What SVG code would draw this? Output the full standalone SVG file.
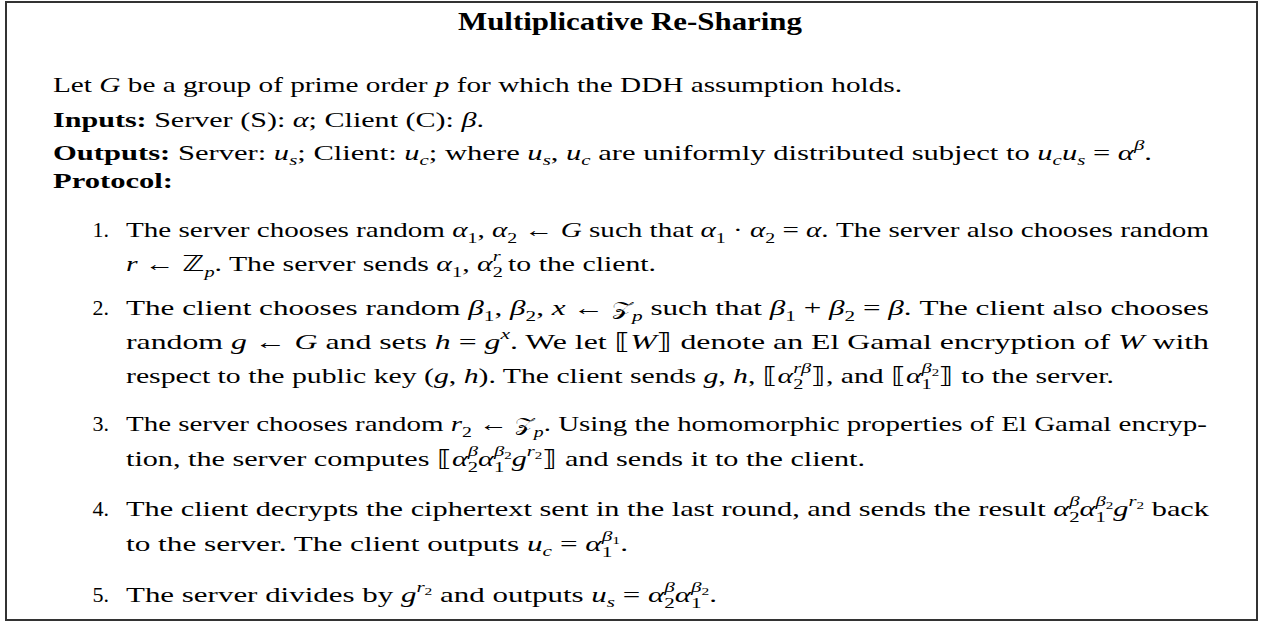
<svg xmlns="http://www.w3.org/2000/svg" width="1264" height="622" viewBox="0 0 1264 622">
<style>
.t{font-family:"Liberation Serif","DejaVu Serif",serif;font-size:22px;fill:#000}
.h{font-size:25px;font-weight:bold}
.b{font-weight:bold}
.i{font-style:italic}
.s{font-size:15px}
.ss{font-size:11px}
.m{font-family:"DejaVu Sans","DejaVu Serif",serif;font-style:normal}
.n{text-anchor:end}
</style>
<rect x="6" y="2" width="1251" height="618" fill="#fff" stroke="#333" stroke-width="2"/>
<g id="title">
<text class="t h" x="458" y="30" textLength="344" lengthAdjust="spacingAndGlyphs">Multiplicative Re-Sharing</text>
</g>
<g id="header">
<text class="t" x="53" y="92" textLength="849" lengthAdjust="spacingAndGlyphs">Let <tspan class="i">G</tspan> be a group of prime order <tspan class="i">p</tspan> for which the DDH assumption holds.</text>
<text class="t" x="53" y="127" textLength="431" lengthAdjust="spacingAndGlyphs"><tspan class="b">Inputs:</tspan> Server (S): <tspan class="i">α</tspan>; Client (C): <tspan class="i">β</tspan>.</text>
<text class="t" x="53" y="160" textLength="1099" lengthAdjust="spacingAndGlyphs"><tspan class="b">Outputs:</tspan> Server: <tspan class="i">u</tspan><tspan class="s i" dy="5">s</tspan><tspan dy="-5">; Client: </tspan><tspan class="i">u</tspan><tspan class="s i" dy="5">c</tspan><tspan dy="-5">; where </tspan><tspan class="i">u</tspan><tspan class="s i" dy="5">s</tspan><tspan dy="-5">, </tspan><tspan class="i">u</tspan><tspan class="s i" dy="5">c</tspan><tspan dy="-5"> are uniformly distributed subject to </tspan><tspan class="i">u</tspan><tspan class="s i" dy="5">c</tspan><tspan class="i" dy="-5">u</tspan><tspan class="s i" dy="5">s</tspan><tspan dy="-5"> = </tspan><tspan class="i">α</tspan><tspan class="s i" dy="-10">β</tspan><tspan dy="10">.</tspan></text>
<text class="t b" x="53" y="188" textLength="120" lengthAdjust="spacingAndGlyphs">Protocol:</text>
</g>
<g id="step1">
<text class="t n" x="109" y="237">1.</text>
<text class="t" x="126" y="237" textLength="1083" lengthAdjust="spacingAndGlyphs">The server chooses random <tspan class="i">α</tspan><tspan class="s" dy="6">1</tspan><tspan dy="-6">, </tspan><tspan class="i">α</tspan><tspan class="s" dy="6">2</tspan><tspan dy="-6"> ← </tspan><tspan class="i">G</tspan> such that <tspan class="i">α</tspan><tspan class="s" dy="6">1</tspan><tspan dy="-6"> · </tspan><tspan class="i">α</tspan><tspan class="s" dy="6">2</tspan><tspan dy="-6"> = </tspan><tspan class="i">α</tspan>. The server also chooses random</text>
<text class="t" x="126" y="271" textLength="530" lengthAdjust="spacingAndGlyphs"><tspan class="i">r</tspan> ← <tspan class="m">ℤ</tspan><tspan class="s i" dy="6">p</tspan><tspan dy="-6">. The server sends </tspan><tspan class="i">α</tspan><tspan class="s" dy="6">1</tspan><tspan dy="-6">, </tspan><tspan class="i">α</tspan><tspan class="s" dy="6">2</tspan><tspan class="s i" dx="-7.5" dy="-16">r</tspan><tspan dy="10"> to the client.</tspan></text>
</g>
<g id="step2">
<text class="t n" x="109" y="315">2.</text>
<text class="t" x="126" y="315" textLength="1083" lengthAdjust="spacingAndGlyphs">The client chooses random <tspan class="i">β</tspan><tspan class="s" dy="6">1</tspan><tspan dy="-6">, </tspan><tspan class="i">β</tspan><tspan class="s" dy="6">2</tspan><tspan dy="-6">, </tspan><tspan class="i">x</tspan> ← <tspan class="m" font-size="19">𝒵</tspan><tspan class="s i" dy="6">p</tspan><tspan dy="-6"> such that </tspan><tspan class="i">β</tspan><tspan class="s" dy="6">1</tspan><tspan dy="-6"> + </tspan><tspan class="i">β</tspan><tspan class="s" dy="6">2</tspan><tspan dy="-6"> = </tspan><tspan class="i">β</tspan>. The client also chooses</text>
<text class="t" x="126" y="349" textLength="1083" lengthAdjust="spacingAndGlyphs">random <tspan class="i">g</tspan> ← <tspan class="i">G</tspan> and sets <tspan class="i">h</tspan> = <tspan class="i">g</tspan><tspan class="s i" dy="-10">x</tspan><tspan dy="10">. We let </tspan><tspan class="m">⟦</tspan><tspan class="i">W</tspan><tspan class="m">⟧</tspan> denote an El Gamal encryption of <tspan class="i">W</tspan> with</text>
<text class="t" x="126" y="383" textLength="988" lengthAdjust="spacingAndGlyphs">respect to the public key (<tspan class="i">g</tspan>, <tspan class="i">h</tspan>). The client sends <tspan class="i">g</tspan>, <tspan class="i">h</tspan>, <tspan class="m">⟦</tspan><tspan class="i">α</tspan><tspan class="s" dy="6">2</tspan><tspan class="s i" dx="-7.5" dy="-16">rβ</tspan><tspan class="m" dy="10">⟧</tspan>, and <tspan class="m">⟦</tspan><tspan class="i">α</tspan><tspan class="s" dy="6">1</tspan><tspan class="s i" dx="-7.5" dy="-16">β</tspan><tspan class="ss" dy="3">2</tspan><tspan class="m" dy="7">⟧</tspan> to the server.</text>
</g>
<g id="step3">
<text class="t n" x="109" y="431">3.</text>
<text class="t" x="126" y="431" textLength="1081" lengthAdjust="spacingAndGlyphs">The server chooses random <tspan class="i">r</tspan><tspan class="s" dy="6">2</tspan><tspan dy="-6"> ← </tspan><tspan class="m" font-size="19">𝒵</tspan><tspan class="s i" dy="6">p</tspan><tspan dy="-6">. Using the homomorphic properties of El Gamal encryp-</tspan></text>
<text class="t" x="126" y="466" textLength="739" lengthAdjust="spacingAndGlyphs">tion, the server computes <tspan class="m">⟦</tspan><tspan class="i">α</tspan><tspan class="s" dy="6">2</tspan><tspan class="s i" dx="-7.5" dy="-16">β</tspan><tspan class="i" dy="10">α</tspan><tspan class="s" dy="6">1</tspan><tspan class="s i" dx="-7.5" dy="-16">β</tspan><tspan class="ss" dy="3">2</tspan><tspan class="i" dy="7">g</tspan><tspan class="s i" dy="-10">r</tspan><tspan class="ss" dy="3">2</tspan><tspan class="m" dy="7">⟧</tspan> and sends it to the client.</text>
</g>
<g id="step4">
<text class="t n" x="109" y="516">4.</text>
<text class="t" x="126" y="516" textLength="1083" lengthAdjust="spacingAndGlyphs">The client decrypts the ciphertext sent in the last round, and sends the result <tspan class="i">α</tspan><tspan class="s" dy="6">2</tspan><tspan class="s i" dx="-7.5" dy="-16">β</tspan><tspan class="i" dy="10">α</tspan><tspan class="s" dy="6">1</tspan><tspan class="s i" dx="-7.5" dy="-16">β</tspan><tspan class="ss" dy="3">2</tspan><tspan class="i" dy="7">g</tspan><tspan class="s i" dy="-10">r</tspan><tspan class="ss" dy="3">2</tspan><tspan dy="7"> back</tspan></text>
<text class="t" x="126" y="551" textLength="502" lengthAdjust="spacingAndGlyphs">to the server. The client outputs <tspan class="i">u</tspan><tspan class="s i" dy="5">c</tspan><tspan dy="-5"> = </tspan><tspan class="i">α</tspan><tspan class="s" dy="6">1</tspan><tspan class="s i" dx="-7.5" dy="-16">β</tspan><tspan class="ss" dy="3">1</tspan><tspan dy="7">.</tspan></text>
</g>
<g id="step5">
<text class="t n" x="109" y="602">5.</text>
<text class="t" x="126" y="602" textLength="591" lengthAdjust="spacingAndGlyphs">The server divides by <tspan class="i">g</tspan><tspan class="s i" dy="-10">r</tspan><tspan class="ss" dy="3">2</tspan><tspan dy="7"> and outputs </tspan><tspan class="i">u</tspan><tspan class="s i" dy="5">s</tspan><tspan dy="-5"> = </tspan><tspan class="i">α</tspan><tspan class="s" dy="6">2</tspan><tspan class="s i" dx="-7.5" dy="-16">β</tspan><tspan class="i" dy="10">α</tspan><tspan class="s" dy="6">1</tspan><tspan class="s i" dx="-7.5" dy="-16">β</tspan><tspan class="ss" dy="3">2</tspan><tspan dy="7">.</tspan></text>
</g>
<g id="connectors"></g>
</svg>
